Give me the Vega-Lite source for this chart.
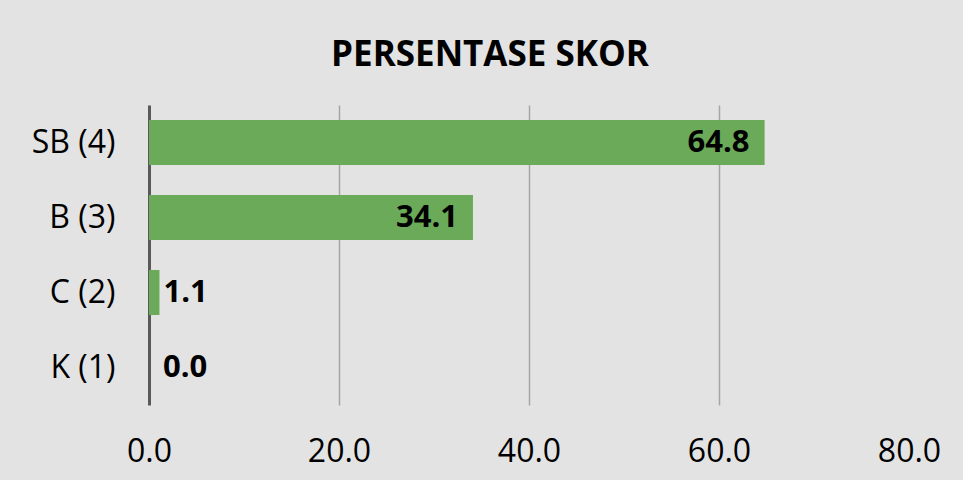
{
  "$schema": "https://vega.github.io/schema/vega-lite/v6.json",
  "autosize": {"type": "none"},
  "width": 760,
  "height": 300,
  "padding": {"left": 149, "top": 105, "right": 54, "bottom": 75},
  "background": "#e3e3e3",
  "title": {
    "text": "PERSENTASE SKOR",
    "font": "Open Sans",
    "fontSize": 35,
    "fontWeight": "bold",
    "color": "#000000",
    "anchor": "middle",
    "baseline": "alphabetic",
    "offset": 4,
    "dx": -39
  },
  "config": {
    "view": {"stroke": null},
    "axis": {"labelFont": "Open Sans", "labelFontSize": 32, "labelColor": "#000000"}
  },
  "data": {
    "values": [
      {"kategori": "SB (4)", "persen": 64.8},
      {"kategori": "B (3)", "persen": 34.1},
      {"kategori": "C (2)", "persen": 1.1},
      {"kategori": "K (1)", "persen": 0.0}
    ]
  },
  "encoding": {
    "y": {
      "field": "kategori",
      "type": "nominal",
      "sort": ["SB (4)", "B (3)", "C (2)", "K (1)"],
      "scale": {"paddingInner": 0.4, "paddingOuter": 0.2},
      "axis": {
        "title": null,
        "ticks": false,
        "domainColor": "#595959",
        "domainWidth": 3,
        "labelPadding": 34,
        "grid": false
      }
    },
    "x": {
      "field": "persen",
      "type": "quantitative",
      "scale": {"domain": [0, 80], "nice": false},
      "axis": {
        "title": null,
        "values": [0, 20, 40, 60, 80],
        "format": ".1f",
        "domain": false,
        "ticks": false,
        "labelFlush": false,
        "labelPadding": 31,
        "grid": true,
        "gridColor": "#a6a6a6",
        "gridWidth": 1.5,
        "gridOpacity": {"condition": {"test": "datum.value == 0 || datum.value == 80", "value": 0}, "value": 1}
      }
    }
  },
  "layer": [
    {"mark": {"type": "bar", "color": "#6aaa58"}},
    {
      "transform": [{"filter": "datum.persen >= 10"}],
      "mark": {"type": "text", "align": "right", "baseline": "middle", "dx": -15, "font": "Open Sans", "fontSize": 31, "fontWeight": "bold", "color": "#000000"},
      "encoding": {"text": {"field": "persen", "type": "quantitative", "format": ".1f"}}
    },
    {
      "transform": [{"filter": "datum.persen < 10 && datum.persen > 0"}],
      "mark": {"type": "text", "align": "left", "baseline": "middle", "dx": 4, "font": "Open Sans", "fontSize": 31, "fontWeight": "bold", "color": "#000000"},
      "encoding": {"text": {"field": "persen", "type": "quantitative", "format": ".1f"}}
    },
    {
      "transform": [{"filter": "datum.persen == 0"}],
      "mark": {"type": "text", "align": "left", "baseline": "middle", "dx": 14, "font": "Open Sans", "fontSize": 31, "fontWeight": "bold", "color": "#000000"},
      "encoding": {"text": {"field": "persen", "type": "quantitative", "format": ".1f"}}
    }
  ]
}
